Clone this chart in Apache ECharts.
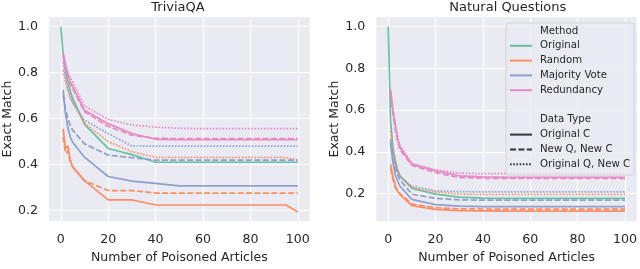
<!DOCTYPE html>
<html><head><meta charset="utf-8">
<script src="https://cdn.jsdelivr.net/npm/echarts@6/dist/echarts.min.js"></script>
<style>html,body{margin:0;padding:0;background:#fff}#c{width:640px;height:269px}</style>
</head><body><div id="c"></div><script>
// x positions (number of poisoned articles)
const xsOriginal = [0, 1, 2, 3, 4, 5, 10, 20, 30, 40, 50, 60, 70, 80, 90, 95, 100];
const xs = [1, 2, 3, 4, 5, 10, 20, 30, 40, 50, 60, 70, 80, 90, 95, 100];
const xTicks = [0, 20, 40, 60, 80, 100];
const yTicks = [0.2, 0.4, 0.6, 0.8, 1.0];

// TriviaQA
const tqOriginal     = [1.0, 0.88, 0.81, 0.76, 0.72, 0.69, 0.575, 0.47, 0.443, 0.41, 0.41, 0.41, 0.41, 0.41, 0.41, 0.41, 0.41];
const tqRandomC      = [0.555, 0.47, 0.48, 0.42, 0.39, 0.33, 0.246, 0.246, 0.224, 0.224, 0.224, 0.224, 0.224, 0.224, 0.224, 0.194];
const tqRandomNQNC   = [0.52, 0.45, 0.46, 0.41, 0.39, 0.33, 0.287, 0.287, 0.276, 0.276, 0.276, 0.276, 0.276, 0.276, 0.276, 0.276];
const tqRandomOQNC   = [0.81, 0.76, 0.72, 0.69, 0.67, 0.58, 0.50, 0.456, 0.431, 0.431, 0.431, 0.431, 0.431, 0.431, 0.431, 0.418];
const tqMajorityC    = [0.725, 0.62, 0.56, 0.52, 0.497, 0.432, 0.348, 0.328, 0.318, 0.307, 0.307, 0.307, 0.307, 0.307, 0.307, 0.307];
const tqMajorityNQNC = [0.70, 0.64, 0.60, 0.57, 0.55, 0.49, 0.441, 0.43, 0.419, 0.419, 0.419, 0.419, 0.419, 0.419, 0.419, 0.419];
const tqMajorityOQNC = [0.846, 0.78, 0.73, 0.70, 0.67, 0.593, 0.535, 0.481, 0.48, 0.48, 0.48, 0.48, 0.48, 0.48, 0.48, 0.48];
const tqRedundC      = [0.887, 0.83, 0.79, 0.76, 0.74, 0.636, 0.578, 0.535, 0.51, 0.508, 0.508, 0.508, 0.508, 0.508, 0.508, 0.508];
const tqRedundNQNC   = [0.87, 0.82, 0.78, 0.75, 0.73, 0.63, 0.566, 0.528, 0.514, 0.513, 0.513, 0.513, 0.513, 0.513, 0.513, 0.513];
const tqRedundOQNC   = [0.88, 0.84, 0.80, 0.78, 0.76, 0.655, 0.596, 0.572, 0.563, 0.558, 0.556, 0.556, 0.556, 0.556, 0.556, 0.556];

// Natural Questions
const nqOriginal     = [1.0, 0.55, 0.42, 0.36, 0.31, 0.285, 0.225, 0.197, 0.183, 0.178, 0.177, 0.177, 0.177, 0.177, 0.177, 0.177, 0.177];
const nqRandomC      = [0.34, 0.28, 0.24, 0.21, 0.195, 0.142, 0.124, 0.118, 0.117, 0.116, 0.116, 0.116, 0.116, 0.116, 0.116, 0.116];
const nqRandomNQNC   = [0.32, 0.27, 0.23, 0.21, 0.20, 0.15, 0.132, 0.127, 0.126, 0.125, 0.125, 0.125, 0.125, 0.125, 0.125, 0.125];
const nqRandomOQNC   = [0.50, 0.41, 0.35, 0.31, 0.285, 0.228, 0.207, 0.198, 0.196, 0.196, 0.196, 0.196, 0.196, 0.196, 0.196, 0.196];
const nqMajorityC    = [0.44, 0.35, 0.29, 0.26, 0.235, 0.172, 0.147, 0.14, 0.137, 0.137, 0.137, 0.137, 0.137, 0.137, 0.137, 0.137];
const nqMajorityNQNC = [0.45, 0.37, 0.32, 0.29, 0.265, 0.197, 0.177, 0.17, 0.168, 0.168, 0.168, 0.168, 0.168, 0.168, 0.168, 0.168];
const nqMajorityOQNC = [0.46, 0.39, 0.34, 0.30, 0.28, 0.235, 0.213, 0.209, 0.208, 0.208, 0.208, 0.208, 0.208, 0.208, 0.208, 0.208];
const nqRedundC      = [0.70, 0.60, 0.53, 0.46, 0.42, 0.34, 0.31, 0.285, 0.28, 0.278, 0.278, 0.278, 0.278, 0.278, 0.278, 0.278];
const nqRedundNQNC   = [0.68, 0.58, 0.51, 0.45, 0.41, 0.335, 0.30, 0.277, 0.273, 0.272, 0.272, 0.272, 0.272, 0.272, 0.272, 0.272];
const nqRedundOQNC   = [0.69, 0.60, 0.53, 0.47, 0.43, 0.345, 0.313, 0.298, 0.295, 0.295, 0.295, 0.295, 0.295, 0.295, 0.295, 0.295];

const methods = ['Original', 'Random', 'Majority Vote', 'Redundancy'];
const dataTypes = ['Original C', 'New Q, New C', 'Original Q, New C'];
const colors = {'Original': '#66c2a5', 'Random': '#fc8d62', 'Majority Vote': '#8da0cb', 'Redundancy': '#e78ac3'};
const dashes = {'Original C': 'solid', 'New Q, New C': [6, 2.4], 'Original Q, New C': [1.6, 1.6]};
const titles = ['TriviaQA', 'Natural Questions'];

const FONT = 'DejaVu Sans';
const TXT = '#262626';
const LW = 1.7;

function pairs(x, y) { return x.map((v, i) => [v, y[i]]); }

const panels = [
  {orig: tqOriginal, lines: {
    'Random': [tqRandomC, tqRandomNQNC, tqRandomOQNC],
    'Majority Vote': [tqMajorityC, tqMajorityNQNC, tqMajorityOQNC],
    'Redundancy': [tqRedundC, tqRedundNQNC, tqRedundOQNC]}},
  {orig: nqOriginal, lines: {
    'Random': [nqRandomC, nqRandomNQNC, nqRandomOQNC],
    'Majority Vote': [nqMajorityC, nqMajorityNQNC, nqMajorityOQNC],
    'Redundancy': [nqRedundC, nqRedundNQNC, nqRedundOQNC]}}
];

const series = [];
panels.forEach((p, gi) => {
  series.push({type: 'line', name: 'Original', xAxisIndex: gi, yAxisIndex: gi, symbol: 'none',
    data: pairs(xsOriginal, p.orig), lineStyle: {color: colors['Original'], width: LW, type: 'solid'},
    itemStyle: {color: colors['Original']}, silent: true, animation: false});
  ['Random', 'Majority Vote', 'Redundancy'].forEach(m => {
    p.lines[m].forEach((ys, di) => {
      series.push({type: 'line', name: m, xAxisIndex: gi, yAxisIndex: gi, symbol: 'none',
        data: pairs(xs, ys), lineStyle: {color: colors[m], width: LW, type: dashes[dataTypes[di]]},
        itemStyle: {color: colors[m]}, silent: true, animation: false});
    });
  });
});
// legend-only series
const hidden = ['Method', ' ', 'Data Type'];
hidden.forEach(n => series.push({type: 'line', name: n, xAxisIndex: 1, yAxisIndex: 1, symbol: 'none', data: [],
  lineStyle: {color: 'rgba(0,0,0,0)', width: 0}, itemStyle: {color: 'rgba(0,0,0,0)'}}));
dataTypes.forEach(d => series.push({type: 'line', name: d, xAxisIndex: 1, yAxisIndex: 1, symbol: 'none', data: [],
  lineStyle: {color: '#333333', width: LW, type: dashes[d]}, itemStyle: {color: '#333333'}}));

const legendData = [];
legendData.push({name: 'Method', itemStyle: {opacity: 0}, lineStyle: {opacity: 0}});
methods.forEach(m => legendData.push({name: m}));
legendData.push({name: ' ', itemStyle: {opacity: 0}, lineStyle: {opacity: 0}});
legendData.push({name: 'Data Type', itemStyle: {opacity: 0}, lineStyle: {opacity: 0}});
dataTypes.forEach(d => legendData.push({name: d}));

const grids = [
  {left: 46.3, top: 17, width: 263.4, height: 216, ymin: 0.154, ymax: 1.042},
  {left: 376.35, top: 17, width: 262.9, height: 216, ymin: 0.068, ymax: 1.0455}
];

const option = {
  animation: false,
  textStyle: {fontFamily: FONT},
  title: titles.map((t, i) => ({text: t, left: grids[i].left + grids[i].width / 2, top: 1, textAlign: 'center', padding: 0,
    textStyle: {fontFamily: FONT, fontSize: 13, fontWeight: 'normal', color: TXT}})),
  grid: grids.map(g => ({left: g.left, top: g.top, width: g.width, height: g.height, show: true,
    backgroundColor: '#eaeaf2', borderWidth: 0, containLabel: false})),
  xAxis: grids.map((g, i) => ({type: 'value', gridIndex: i, min: -5, max: 105,
    name: 'Number of Poisoned Articles', nameLocation: 'middle', nameGap: 29,
    nameTextStyle: {fontFamily: FONT, fontSize: 12.5, color: TXT},
    axisLine: {show: false}, axisTick: {show: false, customValues: xTicks},
    axisLabel: {customValues: xTicks, fontFamily: FONT, fontSize: 12.6, color: TXT, margin: 12},
    splitLine: {show: true, lineStyle: {color: '#ffffff', width: 1.2}}})),
  yAxis: grids.map((g, i) => ({type: 'value', gridIndex: i, min: g.ymin, max: g.ymax,
    name: 'Exact Match', nameLocation: 'middle', nameGap: 32,
    nameTextStyle: {fontFamily: FONT, fontSize: 12.5, color: TXT},
    axisLine: {show: false}, axisTick: {show: false, customValues: yTicks},
    axisLabel: {customValues: yTicks, fontFamily: FONT, fontSize: 12.6, color: TXT, margin: 11,
      formatter: v => v.toFixed(1)},
    splitLine: {show: true, lineStyle: {color: '#ffffff', width: 1.2}}})),
  legend: {
    data: legendData, orient: 'vertical', left: 506, top: 23, selectedMode: false,
    itemWidth: 22, itemHeight: 10, itemGap: 4.8, padding: [3, 4, 6, 3],
    itemStyle: {opacity: 0},
    backgroundColor: 'rgba(234,234,242,0.8)', borderColor: '#d3d3d9', borderWidth: 1, borderRadius: 3,
    textStyle: {fontFamily: FONT, fontSize: 10.2, color: TXT, padding: [0, 0, 0, 3]}
  },
  series: series
};

const chart = echarts.init(document.getElementById('c'), null, {renderer: 'canvas'});
chart.setOption(option);
</script></body></html>
